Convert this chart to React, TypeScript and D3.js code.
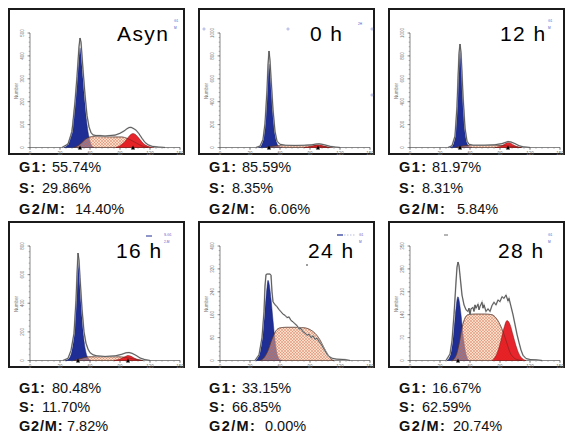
import React from 'react';
import * as d3 from 'd3';

type Pt = [number, number];

// panel titles and the percentages printed under each histogram
const titles = ['Asyn', '0 h', '12 h', '16 h', '24 h', '28 h'];
const g1Pct = ['55.74%', '85.59%', '81.97%', '80.48%', '33.15%', '16.67%'];
const sPct = ['29.86%', '8.35%', '8.31%', '11.70%', '66.85%', '62.59%'];
const g2Pct = ['14.40%', '6.06%', '5.84%', '7.82%', '0.00%', '20.74%'];

// y axis of each histogram (counts)
const yMaxes = [500, 1000, 1000, 800, 400, 350];
const yTickSteps = [100, 200, 200, 200, 80, 70];
const xTicks = [0, 30, 60, 90, 120, 150];

// triangle markers on the channel axis (G1 / G2 peak)
const g1Marks = [50, 49, 50, 48, null, 48];
const g2Marks = [103, 98, 98, 98, null, null];

// G1 model peak, [channel, count]
const g1Curves: Pt[][] = [
  [[34, 0], [37, 10], [40, 40], [43, 110], [45, 190], [47, 290], [49, 400], [50, 435], [51, 405], [53, 300], [55, 190], [57, 100], [59, 45], [61, 15], [64, 0]],
  [[38, 0], [41, 15], [43, 60], [45, 190], [47, 450], [48, 620], [49, 730], [50, 680], [51, 560], [53, 300], [55, 120], [57, 35], [59, 8], [62, 0]],
  [[40, 0], [43, 20], [45, 90], [47, 330], [48, 560], [49, 760], [50, 852], [51, 770], [52, 600], [53, 420], [55, 150], [57, 40], [59, 8], [62, 0]],
  [[35, 0], [39, 15], [42, 70], [44, 170], [46, 390], [47, 540], [48, 695], [49, 640], [50, 520], [52, 300], [54, 140], [56, 55], [58, 18], [61, 0]],
  [[35, 0], [38, 10], [41, 45], [43, 100], [45, 180], [47, 255], [48, 280], [49, 270], [51, 215], [53, 140], [55, 70], [57, 25], [59, 6], [62, 0]],
  [[37, 0], [40, 12], [42, 40], [44, 95], [46, 160], [47, 185], [48, 195], [49, 185], [51, 140], [53, 80], [55, 35], [57, 10], [59, 0]],
];

// S phase model (hatched)
const sCurves: Pt[][] = [
  [[44, 0], [48, 8], [52, 22], [56, 38], [60, 46], [65, 48], [75, 47], [85, 46], [92, 46], [97, 40], [102, 30], [107, 18], [112, 7], [118, 0]],
  [[46, 0], [52, 10], [58, 16], [70, 17], [85, 17], [95, 15], [102, 10], [108, 4], [113, 0]],
  [[46, 0], [51, 10], [56, 17], [70, 18], [85, 18], [95, 16], [101, 10], [107, 4], [112, 0]],
  [[44, 0], [49, 10], [54, 20], [60, 26], [75, 27], [88, 26], [95, 22], [101, 14], [107, 6], [113, 0]],
  [[40, 0], [44, 10], [48, 35], [52, 75], [56, 104], [60, 114], [66, 116], [75, 116], [85, 114], [90, 108], [95, 95], [100, 72], [104, 45], [108, 20], [111, 5], [114, 0]],
  [[42, 0], [46, 15], [49, 50], [52, 100], [55, 130], [58, 140], [65, 142], [75, 142], [82, 140], [86, 130], [90, 110], [94, 80], [97, 52], [100, 25], [104, 8], [108, 2], [112, 0]],
];

// G2/M model peak
const g2Curves: Pt[][] = [
  [[86, 0], [90, 8], [94, 22], [97, 38], [100, 54], [103, 61], [106, 55], [109, 40], [112, 24], [115, 12], [119, 4], [124, 0]],
  [[84, 0], [88, 5], [92, 13], [95, 21], [98, 26], [101, 22], [104, 14], [108, 5], [112, 0]],
  [[85, 0], [89, 6], [92, 16], [95, 32], [98, 45], [101, 36], [104, 20], [107, 8], [111, 0]],
  [[84, 0], [88, 6], [92, 16], [95, 27], [98, 35], [101, 30], [104, 18], [108, 7], [112, 0]],
  [],
  [[82, 0], [85, 10], [88, 30], [91, 62], [94, 100], [97, 122], [100, 110], [103, 78], [106, 45], [109, 20], [112, 7], [116, 0]],
];

// measured histogram outline
const totalCurves: Pt[][] = [
  [[32, 0], [38, 15], [42, 70], [45, 200], [47, 310], [49, 440], [50, 478], [51, 460], [53, 340], [55, 230], [57, 140], [59, 90], [61, 65], [63, 55], [66, 52], [70, 52], [75, 50], [80, 52], [85, 54], [90, 62], [94, 72], [97, 82], [99, 87], [101, 88], [103, 84], [106, 76], [109, 60], [112, 40], [115, 22], [118, 12], [122, 5], [128, 2], [135, 0]],
  [[36, 0], [40, 12], [43, 70], [45, 210], [47, 500], [48, 720], [49, 843], [50, 760], [51, 610], [53, 330], [55, 140], [57, 55], [60, 28], [65, 20], [75, 18], [85, 20], [92, 24], [96, 30], [99, 32], [102, 28], [106, 20], [110, 10], [115, 4], [120, 0]],
  [[38, 0], [42, 15], [45, 100], [47, 360], [48, 600], [49, 820], [50, 904], [51, 830], [52, 650], [53, 450], [55, 170], [57, 55], [59, 28], [63, 20], [75, 20], [85, 24], [92, 34], [96, 46], [98, 52], [101, 48], [105, 34], [109, 16], [113, 6], [120, 0]],
  [[33, 0], [38, 15], [41, 70], [44, 190], [46, 420], [47, 600], [48, 751], [49, 700], [50, 580], [52, 360], [54, 200], [56, 120], [58, 80], [60, 55], [63, 40], [67, 32], [75, 28], [85, 32], [92, 44], [96, 54], [99, 56], [102, 50], [106, 36], [110, 18], [115, 6], [120, 0]],
  [[35, 0], [39, 20], [42, 80], [44, 170], [45, 260], [46, 300], [47, 302], [49, 302], [50, 302], [51, 298], [52, 240], [53, 205], [55, 195], [57, 188], [59, 178], [61, 170], [63, 162], [65, 158], [67, 150], [69, 152], [71, 140], [73, 135], [75, 128], [77, 122], [79, 110], [81, 112], [83, 100], [85, 96], [87, 88], [89, 92], [91, 80], [93, 86], [95, 74], [97, 78], [99, 66], [101, 58], [103, 46], [105, 34], [107, 22], [109, 14], [112, 8], [116, 5], [120, 4], [125, 3], [130, 0]],
  [[36, 0], [40, 20], [42, 60], [44, 140], [46, 240], [47, 285], [48, 301], [49, 290], [50, 260], [52, 200], [54, 170], [56, 155], [58, 150], [59, 160], [60, 140], [61, 158], [63, 162], [64, 150], [65, 170], [66, 160], [68, 172], [69, 155], [70, 165], [72, 178], [73, 160], [74, 170], [76, 150], [78, 158], [80, 150], [82, 168], [84, 178], [86, 170], [88, 185], [90, 180], [92, 195], [94, 190], [96, 200], [98, 182], [99, 190], [101, 165], [103, 140], [105, 110], [107, 80], [109, 55], [111, 32], [113, 16], [116, 6], [120, 3], [126, 2], [132, 0]],
];

const BOX_X = [9, 199, 389];
const BOX_Y = [9, 222];
const BOX_W = 175;
const BOX_H = 145;
const TITLE_X = [117, 310, 500, 116, 308, 498];
const TITLE_Y = [41, 258];
const STAT_Y = [[172, 193, 214], [393, 412, 431]];
const G2_GAP = [56, 60, 58, 48, 56, 54];

const FONT = '"Liberation Sans", Arial, sans-serif';
const BLUE = '#1f2e94';
const RED = '#e4161c';

function Panel({ i }: { i: number }) {
  const bx = BOX_X[i % 3];
  const row = Math.floor(i / 3);
  const by = BOX_Y[row];
  const x = d3.scaleLinear().domain([0, 150]).range([bx + 21, bx + 171]);
  const y = d3.scaleLinear().domain([0, yMaxes[i]]).range([by + 138.5, by + 24]);

  const area = d3.area<Pt>().x(d => x(d[0])).y0(y(0)).y1(d => y(d[1])).curve(d3.curveMonotoneX);
  const line = d3.line<Pt>().x(d => x(d[0])).y(d => y(d[1])).curve(d3.curveMonotoneX);
  const outline = d3.line<Pt>().x(d => x(d[0])).y(d => y(d[1])).curve(d3.curveLinear);

  const step = yTickSteps[i];
  const yMajor = d3.range(0, yMaxes[i] + 1, step);
  const yMinor = d3.range(0, yMaxes[i] + 0.1, step / 5);
  const xMinor = d3.range(0, 151, 6);
  const tx = bx + 10;
  const sy = STAT_Y[row];
  const ls = i === 3 ? 0.8 : 1.4;
  const tri = (c: number | null) =>
    c == null ? null : (
      <path key={'t' + c} d={`M${x(c) - 2},${y(0) + 2}L${x(c) + 2},${y(0) + 2}L${x(c)},${y(0) - 2}Z`} fill="#000" />
    );

  return (
    <g>
      <rect x={bx} y={by} width={BOX_W} height={BOX_H} fill="#fff" stroke="#1b1b1b" strokeWidth={2} />
      {/* axes */}
      <line x1={x(0)} x2={x(150)} y1={y(0)} y2={y(0)} stroke="#555" strokeWidth={0.7} />
      <line x1={x(0)} x2={x(0)} y1={y(0)} y2={y(yMaxes[i])} stroke="#555" strokeWidth={0.7} />
      {xMinor.map(v => (
        <line key={'xm' + v} x1={x(v)} x2={x(v)} y1={y(0)} y2={y(0) + 1.3} stroke="#666" strokeWidth={0.5} />
      ))}
      {xTicks.map(v => (
        <g key={'x' + v}>
          <line x1={x(v)} x2={x(v)} y1={y(0)} y2={y(0) + 2.5} stroke="#555" strokeWidth={0.6} />
          <text x={x(v)} y={y(0) + 7} fontSize={4.5} fill="#777" textAnchor="middle" fontFamily={FONT}>{v}</text>
        </g>
      ))}
      {yMinor.map(v => (
        <line key={'ym' + v} x1={x(0) - 1.3} x2={x(0)} y1={y(v)} y2={y(v)} stroke="#666" strokeWidth={0.5} />
      ))}
      {yMajor.map(v => (
        <g key={'y' + v}>
          <line x1={x(0) - 2.5} x2={x(0)} y1={y(v)} y2={y(v)} stroke="#555" strokeWidth={0.6} />
          <text transform={`translate(${bx + 15},${y(v)}) rotate(-90)`} fontSize={4.5} fill="#777" textAnchor="middle" fontFamily={FONT}>{v}</text>
        </g>
      ))}
      <text transform={`translate(${bx + 9},${by + 82}) rotate(-90)`} fontSize={4.5} fill="#777" textAnchor="middle" fontFamily={FONT}>Number</text>

      {/* model components */}
      <path d={area(g1Curves[i]) || ''} fill={BLUE} stroke="#14206a" strokeWidth={0.5} />
      <path d={area(sCurves[i]) || ''} fill="url(#hatch)" stroke="#5a3a30" strokeWidth={0.5} />
      {g2Curves[i].length > 0 && (
        <path d={area(g2Curves[i]) || ''} fill={RED} fillOpacity={0.93} stroke="#7a1010" strokeWidth={0.5} />
      )}
      <path d={line(sCurves[i]) || ''} fill="none" stroke="#4a2a22" strokeWidth={0.4} />
      <path d={outline(totalCurves[i]) || ''} fill="none" stroke="#bbb" strokeWidth={1.6} />
      <path d={outline(totalCurves[i]) || ''} fill="none" stroke="#333" strokeWidth={0.7} />
      {tri(g1Marks[i])}
      {tri(g2Marks[i])}

      <text x={TITLE_X[i]} y={TITLE_Y[row]} fontSize={21} letterSpacing={1.4} fontFamily={FONT} fill="#000">{titles[i]}</text>

      {/* statistics */}
      <g fontFamily={FONT} fontSize={14.5} fill="#111">
        <text x={tx} y={sy[0]} fontWeight="bold" letterSpacing={ls}>G1:</text>
        <text x={tx + 33} y={sy[0]}>{g1Pct[i]}</text>
        <text x={tx} y={sy[1]} fontWeight="bold" letterSpacing={ls}>S:</text>
        <text x={tx + 23} y={sy[1]}>{sPct[i]}</text>
        <text x={tx} y={sy[2]} fontWeight="bold" letterSpacing={ls}>G2/M:</text>
        <text x={tx + G2_GAP[i]} y={sy[2]}>{g2Pct[i]}</text>
      </g>
    </g>
  );
}

function Marks() {
  // small gate / legend marks of the cytometry software
  const f = { fontFamily: FONT, fontSize: 3.2, fill: '#4a58c8' };
  return (
    <g>
      <text x={174} y={22} {...f}>G1</text>
      <text x={174} y={28.5} {...f}>M</text>
      {[[204, 29], [288, 29], [372, 29], [372, 95]].map(([cx, cy]) => (
        <circle key={cx + '-' + cy} cx={cx} cy={cy} r={1.1} fill="none" stroke="#6a74c8" strokeWidth={0.5} />
      ))}
      <text x={358} y={25} {...f}>2H</text>
      <text x={548} y={22} {...f}>G1</text>
      <text x={548} y={28.5} {...f}>M</text>
      <line x1={146} x2={152} y1={236} y2={236} stroke={BLUE} strokeWidth={1} />
      <text x={164} y={236} {...f}>S-G1</text>
      <text x={164} y={242.5} {...f}>2-M</text>
      <line x1={337} x2={343} y1={235} y2={235} stroke={BLUE} strokeWidth={1.2} />
      <line x1={344} x2={355} y1={235} y2={235} stroke="#8890c8" strokeWidth={0.6} strokeDasharray="1.5,1.5" />
      <text x={359} y={236} {...f}>G1</text>
      <text x={359} y={242.5} {...f}>M</text>
      <circle cx={307} cy={265} r={0.8} fill="#222" />
      <line x1={444} x2={448} y1={235} y2={235} stroke="#444" strokeWidth={0.8} />
      <text x={548} y={236} {...f}>G1</text>
      <text x={548} y={242.5} {...f}>M</text>
    </g>
  );
}

export default function App() {
  return (
    <svg width={565} height={433} style={{ position: 'absolute', left: 0, top: 0, background: '#fff' }}>
      <defs>
        <pattern id="hatch" width={3} height={3} patternUnits="userSpaceOnUse">
          <rect width={3} height={3} fill="#f5b98f" fillOpacity={0.5} />
          <path d="M0,0L3,3M3,0L0,3" stroke="#d0694f" strokeWidth={0.45} strokeOpacity={0.85} />
        </pattern>
      </defs>
      <rect width={565} height={433} fill="#fff" />
      {titles.map((_, i) => (
        <Panel key={i} i={i} />
      ))}
      <Marks />
    </svg>
  );
}
